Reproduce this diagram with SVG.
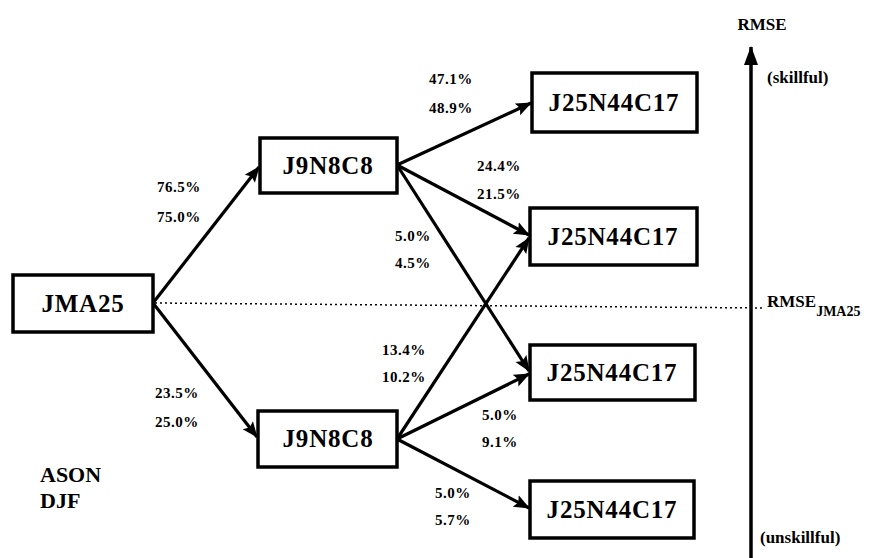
<svg xmlns="http://www.w3.org/2000/svg" width="883" height="558" viewBox="0 0 883 558">
<style>
.box{fill:#fff;stroke:#000;stroke-width:3.5}
.nt{font-family:"Liberation Serif","Times New Roman",serif;font-size:25px;font-weight:bold;text-anchor:middle;fill:#000;letter-spacing:0.8px}
.pl{font-family:"Liberation Serif","Times New Roman",serif;font-size:15px;font-weight:bold;fill:#000;letter-spacing:0.5px}
.ax{font-family:"Liberation Serif","Times New Roman",serif;font-size:17px;font-weight:bold;fill:#000}
.lg{font-family:"Liberation Serif","Times New Roman",serif;font-size:22px;font-weight:bold;fill:#000}
.edge{stroke:#000;stroke-width:3.2;fill:none;marker-end:url(#ah)}
</style>
<defs>
<marker id="ah" markerUnits="userSpaceOnUse" markerWidth="18" markerHeight="14" refX="15" refY="7" orient="auto">
<path d="M0,0.5 L16,7 L0,13.5 L3,7 Z" fill="#000"/>
</marker>
<marker id="axh" markerUnits="userSpaceOnUse" markerWidth="20" markerHeight="14" refX="18" refY="7" orient="auto">
<path d="M0,0 L19,7 L0,14 Z" fill="#000"/>
</marker>
</defs>
<rect width="883" height="558" fill="#fff"/>
<g id="connectors">
<line class="edge" x1="153" y1="303" x2="259" y2="167"/>
<line class="edge" x1="153" y1="303" x2="257" y2="437"/>
<line class="edge" x1="397" y1="165" x2="531" y2="103"/>
<line class="edge" x1="397" y1="165" x2="529" y2="235"/>
<line class="edge" x1="397" y1="165" x2="529" y2="371"/>
<line class="edge" x1="397" y1="439" x2="529" y2="238"/>
<line class="edge" x1="397" y1="439" x2="529" y2="374"/>
<line class="edge" x1="397" y1="439" x2="529" y2="508"/>
<line x1="155" y1="303" x2="765" y2="308" stroke="#000" stroke-width="1.5" stroke-dasharray="2,3"/>
<line x1="751" y1="558" x2="751" y2="47" stroke="#000" stroke-width="3.5" marker-end="url(#axh)"/>
</g>
<g id="n-jma25"><rect class="box" x="13" y="275" width="140" height="57"/><text class="nt" x="83" y="312">JMA25</text></g>
<g id="n-j9top"><rect class="box" x="260" y="138" width="137" height="55"/><text class="nt" x="328" y="174">J9N8C8</text></g>
<g id="n-j9bot"><rect class="box" x="258" y="411" width="139" height="56"/><text class="nt" x="328" y="447">J9N8C8</text></g>
<g id="n-j25a"><rect class="box" x="532" y="73" width="165" height="59"/><text class="nt" x="614" y="111">J25N44C17</text></g>
<g id="n-j25b"><rect class="box" x="530" y="208" width="167" height="57"/><text class="nt" x="613" y="245">J25N44C17</text></g>
<g id="n-j25c"><rect class="box" x="530" y="345" width="165" height="55"/><text class="nt" x="612" y="381">J25N44C17</text></g>
<g id="n-j25d"><rect class="box" x="530" y="481" width="164" height="57"/><text class="nt" x="612" y="518">J25N44C17</text></g>
<g id="labels">
<text class="pl" x="157" y="192">76.5%</text>
<text class="pl" x="157" y="222">75.0%</text>
<text class="pl" x="155" y="398">23.5%</text>
<text class="pl" x="155" y="427">25.0%</text>
<text class="pl" x="429" y="84">47.1%</text>
<text class="pl" x="429" y="113">48.9%</text>
<text class="pl" x="477" y="171">24.4%</text>
<text class="pl" x="477" y="199">21.5%</text>
<text class="pl" x="395" y="241">5.0%</text>
<text class="pl" x="395" y="268">4.5%</text>
<text class="pl" x="382" y="355">13.4%</text>
<text class="pl" x="382" y="382">10.2%</text>
<text class="pl" x="482" y="420">5.0%</text>
<text class="pl" x="482" y="447">9.1%</text>
<text class="pl" x="435" y="498">5.0%</text>
<text class="pl" x="435" y="525">5.7%</text>
<text class="ax" x="762" y="30" text-anchor="middle">RMSE</text>
<text class="ax" x="767" y="83">(skillful)</text>
<text class="ax" x="760" y="543">(unskillful)</text>
<text class="ax" x="767" y="307">RMSE<tspan font-size="14" dy="9">JMA25</tspan></text>
<text class="lg" x="40" y="482">ASON</text>
<text class="lg" x="40" y="508">DJF</text>
</g>
</svg>
